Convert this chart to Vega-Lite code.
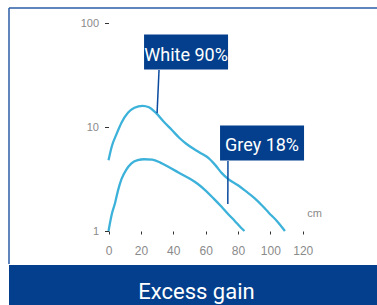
{
  "$schema": "https://vega.github.io/schema/vega-lite/v6.json",
  "padding": {"left": 8, "top": 7, "right": 0, "bottom": 0},
  "spacing": 0,
  "background": "white",
  "config": {"font": "Liberation Sans"},
  "vconcat": [
    {
      "width": 369,
      "height": 256,
      "view": {"stroke": "#2d5ca6", "strokeWidth": 1.5, "strokeDash": [369, 625, 256, 0]},
      "encoding": {
        "x": {
          "field": "x", "type": "quantitative",
          "scale": {"domain": [-61.5, 166.5], "nice": false, "zero": false},
          "axis": {
            "values": [0, 20, 40, 60, 80, 100, 120], "orient": "bottom", "offset": -33,
            "domain": false, "grid": false, "tickSize": 3, "tickColor": "#333", "tickWidth": 1,
            "labelFontSize": 12, "labelColor": "#8a8a8a", "labelPadding": 11.5,
            "labelFlush": false, "labelOverlap": false,
            "title": "cm", "titleX": 305, "titleY": -18, "titleFontSize": 11, "titleFontWeight": "normal",
            "titleColor": "#8a8a8a", "titleAlign": "center", "titleBaseline": "middle", "titleAngle": 0
          }
        },
        "y": {
          "field": "y", "type": "quantitative",
          "scale": {"type": "log", "domain": [0.4817, 139.4], "nice": false},
          "axis": {
            "values": [1, 10, 100], "orient": "left", "offset": -99.5,
            "domain": false, "grid": false, "tickSize": 4, "tickColor": "#333", "tickWidth": 1,
            "labelFontSize": 11, "labelColor": "#8a8a8a", "labelPadding": 6, "format": "d",
            "labelFlush": false, "labelOverlap": false, "title": null
          }
        }
      },
      "layer": [
        {
          "data": {"values": [{}]},
          "mark": {"type": "rule", "color": "#333", "strokeWidth": 1.3},
          "encoding": {"x": {"datum": 0, "type": "quantitative"}, "x2": {"datum": 120}, "y": {"datum": 1, "type": "quantitative"}}
        },
        {
          "data": {"values": [{}]},
          "mark": {"type": "rule", "color": "#333", "strokeWidth": 1.3},
          "encoding": {"x": {"datum": 0, "type": "quantitative"}, "y": {"datum": 1, "type": "quantitative"}, "y2": {"datum": 100}}
        },
        {
          "data": {"values": [
            {"series": "White 90%", "x": 0, "y": 4.8},
            {"series": "White 90%", "x": 2, "y": 6.5},
            {"series": "White 90%", "x": 5, "y": 8.6},
            {"series": "White 90%", "x": 8, "y": 11.0},
            {"series": "White 90%", "x": 12, "y": 13.7},
            {"series": "White 90%", "x": 16, "y": 15.3},
            {"series": "White 90%", "x": 21, "y": 16.0},
            {"series": "White 90%", "x": 25, "y": 15.5},
            {"series": "White 90%", "x": 29, "y": 13.8},
            {"series": "White 90%", "x": 34, "y": 11.3},
            {"series": "White 90%", "x": 39, "y": 9.4},
            {"series": "White 90%", "x": 44, "y": 7.8},
            {"series": "White 90%", "x": 48, "y": 6.9},
            {"series": "White 90%", "x": 53, "y": 6.1},
            {"series": "White 90%", "x": 57, "y": 5.6},
            {"series": "White 90%", "x": 62, "y": 5.0},
            {"series": "White 90%", "x": 66, "y": 4.3},
            {"series": "White 90%", "x": 70, "y": 3.6},
            {"series": "White 90%", "x": 74, "y": 3.15},
            {"series": "White 90%", "x": 80, "y": 2.75},
            {"series": "White 90%", "x": 85, "y": 2.4},
            {"series": "White 90%", "x": 90, "y": 2.08},
            {"series": "White 90%", "x": 95, "y": 1.75},
            {"series": "White 90%", "x": 99, "y": 1.5},
            {"series": "White 90%", "x": 104, "y": 1.25},
            {"series": "White 90%", "x": 109, "y": 1.0},
            {"series": "Grey 18%", "x": 0, "y": 1.0},
            {"series": "Grey 18%", "x": 2, "y": 1.45},
            {"series": "Grey 18%", "x": 4, "y": 1.85},
            {"series": "Grey 18%", "x": 6, "y": 2.5},
            {"series": "Grey 18%", "x": 8, "y": 3.15},
            {"series": "Grey 18%", "x": 11, "y": 3.9},
            {"series": "Grey 18%", "x": 14, "y": 4.45},
            {"series": "Grey 18%", "x": 18, "y": 4.8},
            {"series": "Grey 18%", "x": 22, "y": 4.9},
            {"series": "Grey 18%", "x": 27, "y": 4.85},
            {"series": "Grey 18%", "x": 32, "y": 4.55},
            {"series": "Grey 18%", "x": 38, "y": 4.05},
            {"series": "Grey 18%", "x": 44, "y": 3.6},
            {"series": "Grey 18%", "x": 50, "y": 3.2},
            {"series": "Grey 18%", "x": 55, "y": 2.85},
            {"series": "Grey 18%", "x": 60, "y": 2.45},
            {"series": "Grey 18%", "x": 65, "y": 2.05},
            {"series": "Grey 18%", "x": 70, "y": 1.7},
            {"series": "Grey 18%", "x": 74, "y": 1.45},
            {"series": "Grey 18%", "x": 78, "y": 1.25},
            {"series": "Grey 18%", "x": 82, "y": 1.07},
            {"series": "Grey 18%", "x": 84, "y": 1.0}
          ]},
          "mark": {"type": "line", "interpolate": "monotone", "color": "#3cb2da", "strokeWidth": 2.3},
          "encoding": {"detail": {"field": "series"}}
        },
        {
          "data": {"values": [
            {"label": "White 90%", "x": 31.2, "y": 35.3, "x2": 30.0, "y2": 13.6},
            {"label": "Grey 18%", "x": 73.8, "y": 4.71, "x2": 73.7, "y2": 1.82}
          ]},
          "mark": {"type": "rule", "color": "#0b4a9e", "strokeWidth": 1.5},
          "encoding": {"x2": {"field": "x2"}, "y2": {"field": "y2"}}
        },
        {
          "data": {"values": [
            {"label": "White 90%", "x": 47.9, "y": 52.6},
            {"label": "Grey 18%", "x": 94.85, "y": 7.02}
          ]},
          "mark": {"type": "rect", "width": 84, "height": 35, "color": "#033f8c"}
        },
        {
          "data": {"values": [
            {"label": "White 90%", "x": 47.9, "y": 52.6},
            {"label": "Grey 18%", "x": 94.85, "y": 7.02}
          ]},
          "mark": {"type": "text", "color": "white", "fontSize": 18, "font": "Roboto", "align": "center", "baseline": "alphabetic", "dy": 8.5},
          "encoding": {"text": {"field": "label"}}
        }
      ]
    },
    {
      "width": 369,
      "height": 42,
      "view": {"fill": "#033f8c", "stroke": null},
      "data": {"values": [{"label": "Excess gain"}]},
      "mark": {"type": "text", "color": "white", "fontSize": 22, "font": "Roboto", "baseline": "alphabetic", "align": "center", "dy": 12.5, "dx": 3},
      "encoding": {"text": {"field": "label"}}
    }
  ]
}
